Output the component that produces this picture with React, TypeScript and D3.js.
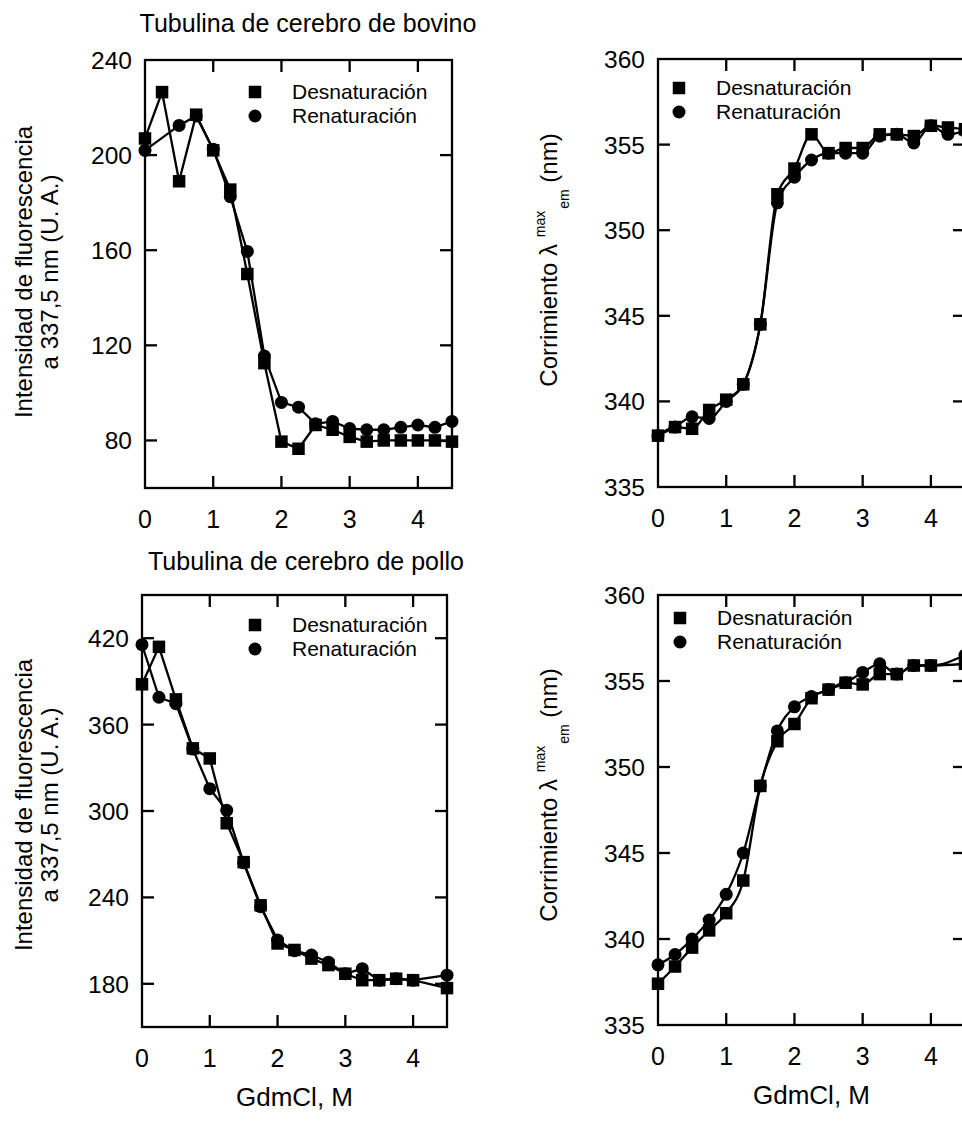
import React from "react";
import * as d3 from "d3";

const xs = [0, 0.25, 0.5, 0.75, 1, 1.25, 1.5, 1.75, 2, 2.25, 2.5, 2.75, 3, 3.25, 3.5, 3.75, 4, 4.25, 4.5];
const xTicks = [0, 1, 2, 3, 4];

// Bovine fluorescence intensity
const bovIntDes = [207, 226.5, 189, 217, 202, 185.5, 150, 112.5, 79.5, 76.5, 86.5, 84.5, 81.5, 79.5, 80, 80, 80, 80, 79.5];
const bovIntRen = [202, null, 212.5, 216.5, 202.5, 182.5, 159.5, 115.5, 96, 94, 87, 88, 85, 84.5, 84.5, 85.5, 86.5, 85.5, 88];
const intTicksBov = [80, 120, 160, 200, 240];

// Bovine lambda max
const bovLamDes = [338, 338.5, 338.4, 339.5, 340.1, 341, 344.5, 352.1, 353.6, 355.6, 354.5, 354.8, 354.8, 355.6, 355.6, 355.5, 356.1, 356, 355.9];
const bovLamRen = [338, 338.5, 339.1, 339, 340, 341, 344.5, 351.6, 353.1, 354.1, 354.5, 354.5, 354.5, 355.5, 355.6, 355.1, 356.1, 355.6, 355.8];
const lamTicks = [335, 340, 345, 350, 355, 360];

// Chicken fluorescence intensity
const polIntDes = [388, 414, 377.5, 343.5, 336.5, 291.5, 264.5, 234.5, 208, 203.5, 197.5, 193, 187, 182.5, 182.5, 183.5, 182.5, null, 177];
const polIntRen = [415.5, 379, 374.5, 343, 315.5, 300.5, 264, 233.5, 210.5, 203, 200, 195, 187, 190.5, 182.5, 183.5, 182.5, null, 186];
const intTicksPol = [180, 240, 300, 360, 420];

// Chicken lambda max
const polLamDes = [337.4, 338.4, 339.5, 340.5, 341.5, 343.4, 348.9, 351.5, 352.5, 354, 354.5, 354.9, 354.8, 355.4, 355.4, 355.9, 355.9, null, 356];
const polLamRen = [338.5, 339.1, 340, 341.1, 342.6, 345, 348.9, 352.1, 353.5, 354.1, 354.5, 354.9, 355.5, 356, 355.4, 355.9, 355.9, null, 356.5];

const titles = ["Tubulina de cerebro de bovino", "Tubulina de cerebro de pollo"];
const legendLabels = ["Desnaturación", "Renaturación"];
const xLabel = "GdmCl, M";

const FONT = "'Liberation Sans', Arial, Helvetica, sans-serif";

type PanelProps = {
  left: number; top: number; right: number; bottom: number;
  yDomain: [number, number]; yTicks: number[];
  des: (number | null)[]; ren: (number | null)[];
  smooth: boolean;
  legendX: number; legendY: number;
  xAxisLabel: boolean;
};

function Panel(p: PanelProps) {
  const x = d3.scaleLinear().domain([0, 4.5]).range([p.left, p.right]);
  const y = d3.scaleLinear().domain(p.yDomain).range([p.bottom, p.top]);
  const tl = 12;
  const mk = (vals: (number | null)[]) =>
    xs.map((xv, i) => ({ x: xv, y: vals[i] })).filter((d) => d.y !== null) as { x: number; y: number }[];
  const desPts = mk(p.des);
  const renPts = mk(p.ren);
  const line = d3
    .line<{ x: number; y: number }>()
    .x((d) => x(d.x))
    .y((d) => y(d.y))
    .curve(p.smooth ? d3.curveMonotoneX : d3.curveLinear);
  const sq = 12.5;
  const r = 6.5;
  return (
    <g>
      <path d={line(renPts) || ""} fill="none" stroke="#000" strokeWidth={2.3} />
      <path d={line(desPts) || ""} fill="none" stroke="#000" strokeWidth={2.3} />
      {renPts.map((d, i) => (
        <circle key={"c" + i} cx={x(d.x)} cy={y(d.y)} r={r} fill="#000" />
      ))}
      {desPts.map((d, i) => (
        <rect key={"s" + i} x={x(d.x) - sq / 2} y={y(d.y) - sq / 2} width={sq} height={sq} fill="#000" />
      ))}
      <rect x={p.left} y={p.top} width={p.right - p.left} height={p.bottom - p.top} fill="none" stroke="#000" strokeWidth={2.3} />
      {xTicks.filter((t) => t > 0).map((t) => (
        <g key={"xt" + t}>
          <line x1={x(t)} x2={x(t)} y1={p.bottom} y2={p.bottom - tl} stroke="#000" strokeWidth={2.3} />
          <line x1={x(t)} x2={x(t)} y1={p.top} y2={p.top + tl} stroke="#000" strokeWidth={2.3} />
        </g>
      ))}
      {xTicks.map((t) => (
        <text key={"xl" + t} x={x(t)} y={p.bottom + 40} textAnchor="middle" fontSize={25} fontFamily={FONT}>
          {t}
        </text>
      ))}
      {p.yTicks.map((t) => (
        <g key={"yt" + t}>
          {t > p.yDomain[0] && t < p.yDomain[1] && (
            <>
              <line x1={p.left} x2={p.left + tl} y1={y(t)} y2={y(t)} stroke="#000" strokeWidth={2.3} />
              <line x1={p.right} x2={p.right - tl} y1={y(t)} y2={y(t)} stroke="#000" strokeWidth={2.3} />
            </>
          )}
          <text x={p.left - 13} y={y(t) + 9} textAnchor="end" fontSize={24.5} fontFamily={FONT}>
            {t}
          </text>
        </g>
      ))}
      <rect x={p.legendX - sq / 2} y={p.legendY - sq / 2} width={sq} height={sq} fill="#000" />
      <circle cx={p.legendX} cy={p.legendY + 24} r={r} fill="#000" />
      <text x={p.legendX + 37} y={p.legendY + 7} fontSize={21} fontFamily={FONT}>
        {legendLabels[0]}
      </text>
      <text x={p.legendX + 37} y={p.legendY + 31} fontSize={21} fontFamily={FONT}>
        {legendLabels[1]}
      </text>
      {p.xAxisLabel && (
        <text x={(p.left + p.right) / 2} y={p.bottom + 79} textAnchor="middle" fontSize={26} fontFamily={FONT}>
          {xLabel}
        </text>
      )}
    </g>
  );
}

function IntLabel({ cy }: { cy: number }) {
  return (
    <g>
      <text transform={`translate(32,${cy}) rotate(-90)`} textAnchor="middle" fontSize={24} fontFamily={FONT}>
        Intensidad de fluorescencia
      </text>
      <text transform={`translate(58,${cy}) rotate(-90)`} textAnchor="middle" fontSize={24} fontFamily={FONT}>
        a 337,5 nm (U. A.)
      </text>
    </g>
  );
}

function LamLabel({ cy }: { cy: number }) {
  return (
    <text transform={`translate(557,${cy}) rotate(-90)`} textAnchor="middle" fontSize={24} fontFamily={FONT}>
      <tspan>Corrimiento λ </tspan>
      <tspan fontSize={14} dy={-12}>max</tspan>
      <tspan fontSize={14} dx={2} dy={24}>em</tspan>
      <tspan dy={-12}> (nm)</tspan>
    </text>
  );
}

export default function App() {
  return (
    <svg width={962} height={1121} style={{ position: "absolute", left: 0, top: 0, background: "#fff" }}>
      <rect x={0} y={0} width={962} height={1121} fill="#fff" />
      <text x={308} y={32} textAnchor="middle" fontSize={25} fontFamily={FONT}>{titles[0]}</text>
      <text x={306} y={570} textAnchor="middle" fontSize={25} fontFamily={FONT}>{titles[1]}</text>
      <IntLabel cy={272} />
      <IntLabel cy={805} />
      <LamLabel cy={260} />
      <LamLabel cy={795} />
      <Panel left={145} top={60} right={452} bottom={488} yDomain={[60, 240]} yTicks={intTicksBov}
        des={bovIntDes} ren={bovIntRen} smooth={false} legendX={255} legendY={92} xAxisLabel={false} />
      <Panel left={658} top={59} right={965} bottom={487} yDomain={[335, 360]} yTicks={lamTicks}
        des={bovLamDes} ren={bovLamRen} smooth={true} legendX={679} legendY={88} xAxisLabel={false} />
      <Panel left={142} top={595} right={447} bottom={1027} yDomain={[150, 450]} yTicks={intTicksPol}
        des={polIntDes} ren={polIntRen} smooth={false} legendX={255} legendY={625} xAxisLabel={true} />
      <Panel left={658} top={595} right={965} bottom={1025} yDomain={[335, 360]} yTicks={lamTicks}
        des={polLamDes} ren={polLamRen} smooth={true} legendX={680} legendY={618} xAxisLabel={true} />
    </svg>
  );
}
